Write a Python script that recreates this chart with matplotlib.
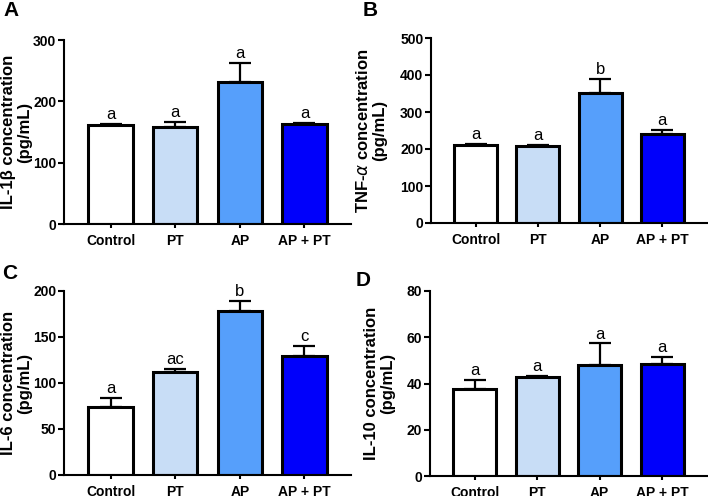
import matplotlib
matplotlib.use("Agg")
import matplotlib.pyplot as plt
import numpy as np

plt.rcParams["font.family"] = ["Liberation Sans", "DejaVu Sans"]
plt.rcParams["mathtext.fontset"] = "dejavusans"

groups = ["Control", "PT", "AP", "AP + PT"]
bar_colors = ["#ffffff", "#c8ddf6", "#569ffb", "#0000fb"]

il1b_mean = [161, 158, 231, 163]
il1b_upper = [163, 166, 262, 165]
il1b_letters = ["a", "a", "a", "a"]

tnfa_mean = [212, 208, 352, 240]
tnfa_upper = [214, 210, 390, 251]
tnfa_letters = ["a", "a", "b", "a"]

il6_mean = [74, 112, 178, 129]
il6_upper = [84, 115, 189, 140]
il6_letters = ["a", "ac", "b", "c"]

il10_mean = [37.5, 43, 48, 48.3]
il10_upper = [41.7, 43.4, 57.3, 51.5]
il10_letters = ["a", "a", "a", "a"]

W, H = 708, 496


def px_rect(left, top, right, bottom):
    # pixel box -> figure fraction [x0, y0, w, h]
    return [left / W, 1 - bottom / H, (right - left) / W, (bottom - top) / H]


# label, ylabel, data, ymax, step, axes box (px), ylabel centre x (px), letter pos (px)
panels = [
    ("A", "IL-1\u03b2 concentration\n(pg/mL)", il1b_mean, il1b_upper, il1b_letters,
     300, 100, (64, 40, 351, 224), 17, (3, 1)),
    ("B", "TNF-$\\alpha$ concentration\n(pg/mL)", tnfa_mean, tnfa_upper, tnfa_letters,
     500, 100, (431, 38, 707, 223), 371, (363, 1)),
    ("C", "IL-6 concentration\n(pg/mL)", il6_mean, il6_upper, il6_letters,
     200, 50, (64, 291, 351, 475), 17, (2, 264)),
    ("D", "IL-10 concentration\n(pg/mL)", il10_mean, il10_upper, il10_letters,
     80, 20, (430, 291, 707, 476), 380, (356, 271)),
]

fig = plt.figure(figsize=(W / 100, H / 100), dpi=100)
x = np.arange(len(groups))

for label, ylabel, mean, upper, letters, ymax, step, box, ylab_x, lpos in panels:
    ax = fig.add_axes(px_rect(*box))
    err = np.array(upper) - np.array(mean)
    ax.errorbar(x, mean, yerr=[np.zeros_like(err), err], fmt="none",
                ecolor="black", elinewidth=1.6, capsize=8, capthick=1.6, zorder=1)
    ax.bar(x, mean, width=0.69, color=bar_colors, edgecolor="black",
           linewidth=2.2, zorder=2)
    for xi, top, txt in zip(x, upper, letters):
        ax.text(xi, top + ymax * 0.01, txt, ha="center", va="bottom", fontsize=12)
    ax.set_xlim(-0.72, 3.72)
    ax.set_ylim(0, ymax)
    ax.set_yticks(np.arange(0, ymax + 1, step))
    ax.set_xticks(x)
    ax.set_xticklabels(groups)
    for t in ax.get_xticklabels() + ax.get_yticklabels():
        t.set_fontweight("bold")
        t.set_fontsize(10)
    ax.set_ylabel(ylabel, fontsize=12, fontweight="bold", linespacing=1.1,
                  va="center", ha="center")
    width_px = box[2] - box[0]
    ax.yaxis.set_label_coords((ylab_x - box[0]) / width_px, 0.5)
    ax.spines["top"].set_visible(False)
    ax.spines["right"].set_visible(False)
    ax.spines["left"].set_linewidth(1.5)
    ax.spines["bottom"].set_linewidth(1.5)
    ax.tick_params(axis="y", width=1.5, length=4.5, pad=1)
    ax.tick_params(axis="x", width=1.5, length=3, pad=4)
    fig.text(lpos[0] / W, 1 - lpos[1] / H, label,
             fontsize=15, fontweight="bold", va="top", ha="left")

fig.savefig("out.png", dpi=100)
